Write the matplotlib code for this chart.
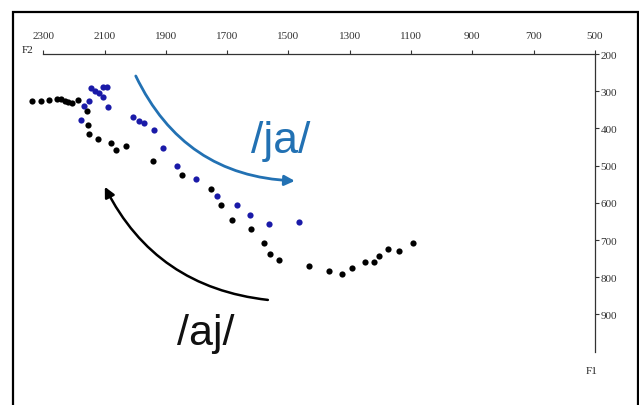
import matplotlib.pyplot as plt
from matplotlib.patches import Rectangle

# formant trajectories (F2, F1) in Hz
aj_f2 = [2338, 2308, 2280, 2254, 2242, 2229, 2218, 2207, 2186, 2157, 2153, 2150,
         2122, 2080, 2061, 2030, 1943, 1847, 1753, 1721, 1685, 1621, 1580, 1561,
         1531, 1432, 1367, 1326, 1291, 1251, 1222, 1204, 1176, 1140, 1093]
aj_f1 = [325, 327, 323, 320, 321, 325, 328, 332, 323, 352, 391, 416,
         428, 440, 459, 446, 487, 524, 564, 607, 645, 670, 708, 737,
         753, 769, 784, 791, 776, 760, 758, 744, 723, 729, 708]

ja_f2 = [2144, 2131, 2118, 2106, 2091, 2104, 2088, 2149, 2168, 2178, 2007,
         1987, 1971, 1940, 1908, 1862, 1800, 1734, 1669, 1624, 1563, 1466]
ja_f1 = [292, 298, 304, 289, 289, 316, 342, 327, 340, 377, 370,
         380, 386, 405, 453, 500, 535, 582, 607, 633, 656, 652]

f2_ticks = [2300, 2100, 1900, 1700, 1500, 1300, 1100, 900, 700, 500]
f1_ticks = [200, 300, 400, 500, 600, 700, 800, 900]

fig = plt.figure(figsize=(6.39, 4.06), dpi=100)
ax = fig.add_axes([0, 0, 1, 1])
ax.set_xlim(2441, 356)
ax.set_ylim(1143.5, 52)
ax.patch.set_alpha(0)

# F2 axis along the top (F1 = 200), F1 axis on the right (F2 = 500)
for s in ['left', 'bottom']:
    ax.spines[s].set_visible(False)
ax.spines['top'].set_position(('data', 200))
ax.spines['top'].set_bounds(500, 2300)
ax.spines['right'].set_position(('data', 500))
ax.spines['right'].set_bounds(200, 1000)
for s in ['top', 'right']:
    ax.spines[s].set_color('#333333')
    ax.spines[s].set_linewidth(0.9)

ax.xaxis.tick_top()
ax.yaxis.tick_right()
ax.set_xticks(f2_ticks)
ax.set_yticks(f1_ticks)
ax.tick_params(axis='x', direction='out', length=3, pad=7, labelsize=8,
               colors='#333333')
ax.tick_params(axis='y', direction='out', length=3, pad=1, labelsize=8,
               colors='#333333')
for lab in ax.get_xticklabels() + ax.get_yticklabels():
    lab.set_family('Liberation Serif')

ax.text(2332, 200, 'F2', ha='right', va='bottom', fontsize=8,
        family='Liberation Serif', color='#222222')
ax.text(510, 1050, 'F1', ha='center', va='center', fontsize=8,
        family='Liberation Serif', color='#222222')

ax.scatter(aj_f2, aj_f1, s=20, color='black', zorder=3, linewidths=0)
ax.scatter(ja_f2, ja_f1, s=20, color='#1a1aa8', zorder=4, linewidths=0)

# direction arrows
ax.annotate('', xy=(1479, 541), xytext=(1998, 259),
            arrowprops=dict(arrowstyle='-|>,head_length=0.6,head_width=0.3',
                            color='#2271b3', lw=2,
                            connectionstyle='arc3,rad=0.3',
                            shrinkA=0, shrinkB=0))
ax.annotate('', xy=(2099, 557), xytext=(1567, 861),
            arrowprops=dict(arrowstyle='-|>,head_length=0.6,head_width=0.3',
                            color='black', lw=1.8,
                            connectionstyle='arc3,rad=-0.27',
                            shrinkA=0, shrinkB=0))

ax.text(1524, 463, '/ja/', ha='center', va='baseline', fontsize=32,
        family='Liberation Sans', color='#2271b3')
ax.text(1769, 979, '/aj/', ha='center', va='baseline', fontsize=31,
        family='Liberation Sans', color='#111111')

# outer frame
fig.patches.append(Rectangle((13 / 639, -0.1), 625 / 639, 1.1 - 13 / 406,
                             transform=fig.transFigure, fill=False,
                             edgecolor='black', linewidth=1.6))

fig.savefig('out.png', dpi=100)
